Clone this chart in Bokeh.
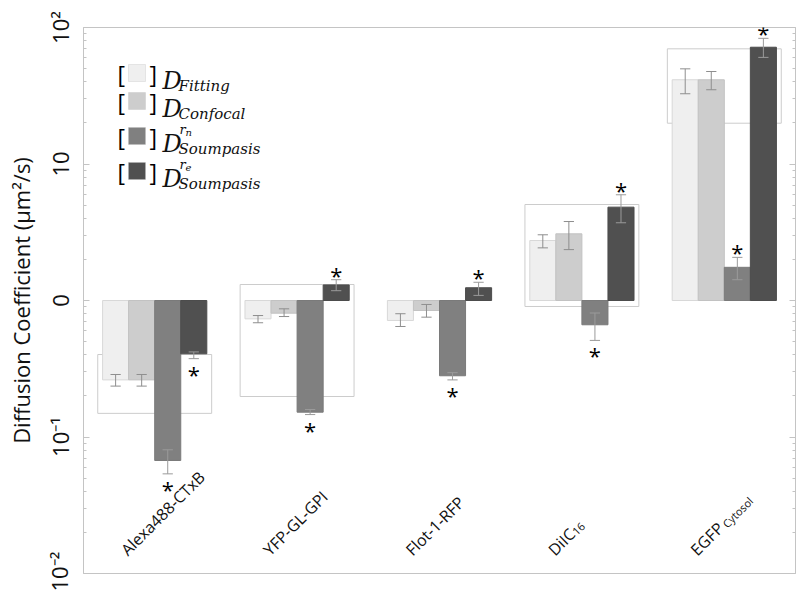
import math
from bokeh.plotting import figure
from bokeh.models import (ColumnDataSource, FactorRange, FixedTicker, Label,
                          BoxAnnotation, LogAxis, CustomJSTickFormatter)
from bokeh.transform import dodge
from bokeh.core.properties import value
from bokeh.embed import file_html
from bokeh.resources import INLINE

# ---------------- data ----------------
categories = ["Alexa488-CTxB", "YFP-GL-GPI", "Flot-1-RFP", "DiIC16", "EGFP Cytosol"]
label_main = ["Alexa488-CTxB", "YFP-GL-GPI", "Flot-1-RFP", "DiIC", "EGFP"]
label_sub = ["", "", "", "16", "Cytosol"]

d_fitting = [0.262, 0.734, 0.714, 2.75, 41.4]
d_fitting_lo = [0.236, 0.687, 0.645, 2.43, 32.7]
d_fitting_hi = [0.287, 0.776, 0.800, 3.03, 49.8]

d_confocal = [0.262, 0.807, 0.845, 3.08, 41.4]
d_confocal_lo = [0.236, 0.763, 0.755, 2.36, 35.0]
d_confocal_hi = [0.287, 0.869, 0.935, 3.79, 47.6]

d_soump_rn = [0.0673, 0.152, 0.281, 0.664, 1.75]
d_soump_rn_lo = [0.0537, 0.146, 0.262, 0.510, 1.42]
d_soump_rn_hi = [0.0806, 0.159, 0.296, 0.810, 2.07]

d_soump_re = [0.407, 1.30, 1.24, 4.83, 71.7]
d_soump_re_lo = [0.375, 1.18, 1.09, 3.71, 60.4]
d_soump_re_hi = [0.420, 1.42, 1.36, 5.95, 83.3]

star_rn = [True, True, True, True, True]
star_re = [True, True, True, True, True]

box_low = [0.149, 0.198, None, 0.904, 19.9]
box_high = [0.402, 1.31, None, 5.05, 69.8]

y_tick_values = [0.01, 0.1, 1, 10, 100]
y_tick_labels = ["10⁻²", "10⁻¹", "0", "10", "10²"]

# ---------------- styling ----------------
FONT = "Open Sans"
MATH_FONT = "DejaVu Serif"
colors = ["#efefef", "#cdcdcd", "#808080", "#505050"]
outlines = ["#d8d8d8", "#c2c2c2", "#7a7a7a", "#4c4c4c"]
BAR_W = 0.183
CAP = 0.036
offsets = [(i - 1.5) * BAR_W for i in range(4)]
LABEL_Y = 0.01426
GRID = "#c4c4c4"

p = figure(x_range=FactorRange(factors=categories, range_padding=0.0),
           y_axis_type="log", y_range=(0.01, 100),
           frame_width=712, frame_height=546,
           min_border_left=83, min_border_right=5, min_border_top=27,
           min_border_bottom=18, output_backend="svg", toolbar_location=None)
p.xgrid.visible = False
p.ygrid.visible = False
p.xaxis.visible = False
p.outline_line_color = GRID
p.outline_line_width = 1
p.background_fill_color = "white"
p.border_fill_color = "white"

minor = [k * 10.0 ** e for e in range(-2, 2) for k in range(2, 10)]
ya = p.yaxis[0]
ya.ticker = FixedTicker(ticks=y_tick_values, minor_ticks=minor)
ya.major_label_overrides = {v: l for v, l in zip(y_tick_values, y_tick_labels)}
ya.major_label_orientation = "vertical"
ya.major_label_text_font = FONT
ya.major_label_text_font_size = "22px"
ya.major_label_text_color = "#111111"
ya.major_label_standoff = 9
ya.axis_label = "Diffusion Coefficient (μm²/s)"
ya.axis_label_text_font = FONT
ya.axis_label_text_font_size = "22px"
ya.axis_label_text_font_style = "normal"
ya.axis_label_text_color = "#111111"
ya.axis_label_standoff = 6
ya.axis_line_color = GRID
ya.major_tick_line_color = GRID
ya.minor_tick_line_color = GRID
ya.major_tick_in = 6
ya.major_tick_out = 0
ya.minor_tick_in = 3
ya.minor_tick_out = 0

ra = LogAxis(ticker=FixedTicker(ticks=y_tick_values, minor_ticks=minor),
             formatter=CustomJSTickFormatter(code="return ''"),
             major_label_standoff=0,
             axis_line_color=GRID, major_tick_line_color=GRID, minor_tick_line_color=GRID,
             major_tick_in=6, major_tick_out=0, minor_tick_in=3, minor_tick_out=0)
p.add_layout(ra, "right")

# group boxes (drawn beneath bars)
bx = [c for c, lo in zip(categories, box_low) if lo is not None]
bsrc = ColumnDataSource(dict(cat=bx,
                             lo=[v for v in box_low if v is not None],
                             hi=[v for v in box_high if v is not None]))
p.quad(left=dodge("cat", -0.4, range=p.x_range), right=dodge("cat", 0.4, range=p.x_range),
       bottom="lo", top="hi", fill_alpha=0, line_color="#cccccc", line_width=1, source=bsrc)

series = [(d_fitting, d_fitting_lo, d_fitting_hi),
          (d_confocal, d_confocal_lo, d_confocal_hi),
          (d_soump_rn, d_soump_rn_lo, d_soump_rn_hi),
          (d_soump_re, d_soump_re_lo, d_soump_re_hi)]

for i, (vals, lo, hi) in enumerate(series):
    src = ColumnDataSource(dict(cat=categories, val=vals, lo=lo, hi=hi))
    off = offsets[i]
    p.vbar(x=dodge("cat", off, range=p.x_range), top="val", bottom=1, width=BAR_W,
           fill_color=colors[i], line_color=outlines[i], line_width=1, source=src)

for i, (vals, lo, hi) in enumerate(series):
    src = ColumnDataSource(dict(cat=categories, val=vals, lo=lo, hi=hi))
    off = offsets[i]
    ec = "#8e8e8e" if i < 2 else "#9a9a9a"
    p.segment(x0=dodge("cat", off, range=p.x_range), y0="lo",
              x1=dodge("cat", off, range=p.x_range), y1="hi",
              line_color=ec, line_width=1, source=src)
    for end in ("lo", "hi"):
        p.segment(x0=dodge("cat", off - CAP, range=p.x_range), y0=end,
                  x1=dodge("cat", off + CAP, range=p.x_range), y1=end,
                  line_color=ec, line_width=1, source=src)

# significance stars
for i, (flags, (vals, lo, hi)) in zip((2, 3), ((star_rn, series[2]), (star_re, series[3]))):
    up = dict(cat=[], y=[], t=[])
    dn = dict(cat=[], y=[], t=[])
    for c, f, v, l, h in zip(categories, flags, vals, lo, hi):
        if not f:
            continue
        if v > 1:
            up["cat"].append(c); up["y"].append(h); up["t"].append("*")
        else:
            dn["cat"].append(c); dn["y"].append(l); dn["t"].append("*")
    for d, yo in ((up, -5), (dn, 15)):
        p.text(x=dodge("cat", offsets[i], range=p.x_range), y="y", text="t",
               source=ColumnDataSource(d), text_align="center",
               text_baseline="alphabetic", y_offset=yo,
               text_font=value(FONT), text_font_size="22px", text_color="black")

# category labels (rotated, inside the frame)
ang = math.pi / 4
lsrc = ColumnDataSource(dict(cat=categories, t=label_main, y=[LABEL_Y] * len(categories)))
p.text(x="cat", y="y", text="t", source=lsrc, angle=ang, x_offset=-31,
       text_align="left", text_baseline="alphabetic",
       text_font=value(FONT), text_font_size="16px", text_color="#111111")
main_w = {"DiIC": 30, "EGFP": 41}
for c, m, s in zip(categories, label_main, label_sub):
    if not s:
        continue
    adv = main_w[m] / math.sqrt(2)
    ssrc = ColumnDataSource(dict(cat=[c], t=[s], y=[LABEL_Y]))
    p.text(x="cat", y="y", text="t", source=ssrc, angle=ang,
           x_offset=-31 + adv + 2, y_offset=-adv + 2,
           text_align="left", text_baseline="alphabetic",
           text_font=value(FONT), text_font_size="11px", text_color="#111111")

# custom legend (screen units relative to the frame)
rows_c = [500, 472, 437, 402]
subs = ["Fitting", "Confocal", "Soumpasis", "Soumpasis"]
sups = [None, None, ("r", "n"), ("r", "e")]
for k in range(4):
    yc = rows_c[k]
    p.add_layout(Label(x=34, y=yc, x_units="screen", y_units="screen", text="[",
                       text_font=FONT, text_font_size="23px", text_baseline="middle",
                       text_color="black"))
    p.add_layout(Label(x=66, y=yc, x_units="screen", y_units="screen", text="]",
                       text_font=FONT, text_font_size="23px", text_baseline="middle",
                       text_color="black"))
    p.add_layout(BoxAnnotation(left=45, right=62, bottom=yc - 8, top=yc + 9,
                               left_units="screen", right_units="screen",
                               bottom_units="screen", top_units="screen",
                               fill_color=colors[k], fill_alpha=1,
                               line_color="#b8b8b8", line_width=1, level="overlay"))
    yb = yc - 7
    p.add_layout(Label(x=79, y=yb, x_units="screen", y_units="screen", text="D",
                       text_font=MATH_FONT, text_font_size="24px", text_font_style="italic",
                       text_baseline="alphabetic", text_color="#111111"))
    p.add_layout(Label(x=95, y=yb - 5, x_units="screen", y_units="screen", text=subs[k],
                       text_font=MATH_FONT, text_font_size="15px", text_font_style="italic",
                       text_baseline="alphabetic", text_color="#111111"))
    if sups[k]:
        r, s = sups[k]
        p.add_layout(Label(x=96, y=yb + 14, x_units="screen", y_units="screen", text=r,
                           text_font=MATH_FONT, text_font_size="13px", text_font_style="italic",
                           text_baseline="alphabetic", text_color="#111111"))
        p.add_layout(Label(x=102, y=yb + 11, x_units="screen", y_units="screen", text=s,
                           text_font=MATH_FONT, text_font_size="10px", text_font_style="italic",
                           text_baseline="alphabetic", text_color="#111111"))

open("out.html", "w").write(file_html(p, INLINE))
